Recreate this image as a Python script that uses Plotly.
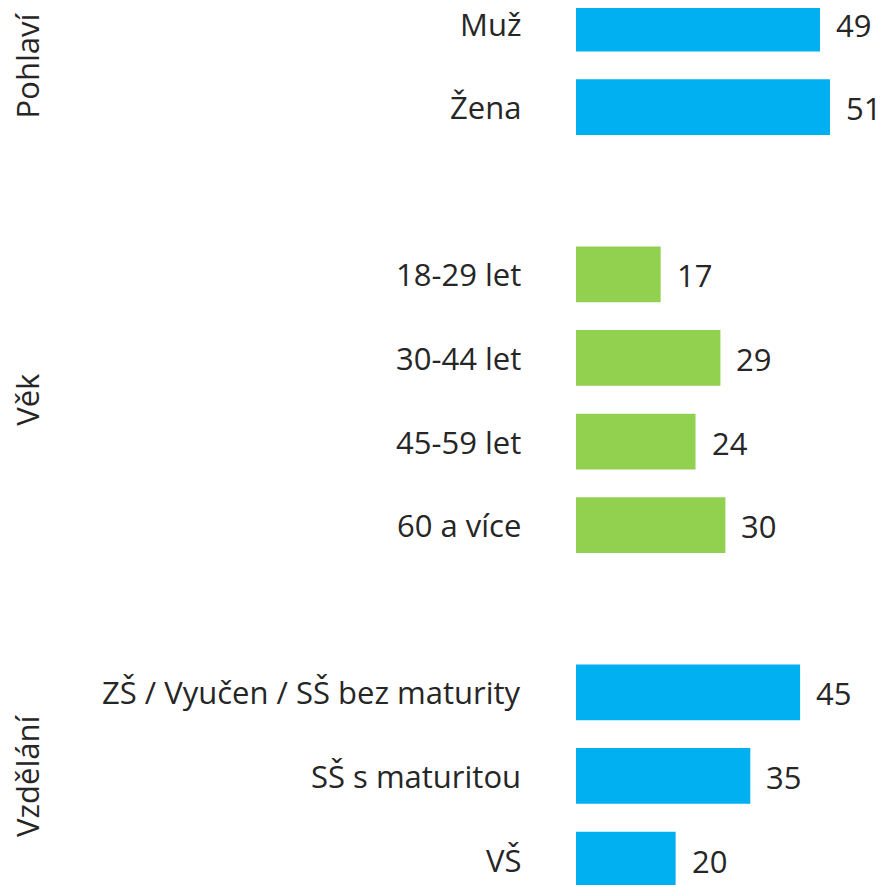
import plotly.graph_objects as go

# Data
categories = ["Muž", "Žena", "18-29 let", "30-44 let", "45-59 let", "60 a více",
              "ZŠ / Vyučen / SŠ bez maturity", "SŠ s maturitou", "VŠ"]
values = [49, 51, 17, 29, 24, 30, 45, 35, 20]
groups = ["Pohlaví", "Pohlaví", "Věk", "Věk", "Věk", "Věk", "Vzdělání", "Vzdělání", "Vzdělání"]
group_names = ["Pohlaví", "Věk", "Vzdělání"]
group_colors = {"Pohlaví": "#00B0F0", "Věk": "#92D050", "Vzdělání": "#00B0F0"}

# Slot positions: one empty slot between groups
slots = []
pos = 0
prev = None
for g in groups:
    if prev is not None and g != prev:
        pos += 1
    slots.append(pos)
    pos += 1
    prev = g

FONT = "Open Sans"
TXT = "#262626"
FS = 31
LEFT = 568

fig = go.Figure()
fig.add_trace(go.Bar(
    x=values, y=slots, orientation="h",
    marker=dict(color=[group_colors[g] for g in groups], line=dict(width=0)),
    width=0.667, hoverinfo="skip",
))

# category labels (left of the bars)
for c, s in zip(categories, slots):
    fig.add_annotation(x=0, xref="paper", y=s, yref="y", text=c, showarrow=False,
                       xanchor="right", yanchor="middle", xshift=-53,
                       font=dict(family=FONT, size=FS, color=TXT))

# value labels
for v, s in zip(values, slots):
    fig.add_annotation(x=v, y=s, text=str(v), showarrow=False, xanchor="left",
                       yanchor="middle", xshift=14, yshift=-1,
                       font=dict(family=FONT, size=FS, color=TXT))

# group labels (rotated, on the far left)
for gname in group_names:
    ss = [s for s, g in zip(slots, groups) if g == gname]
    fig.add_annotation(x=0, xref="paper", xanchor="center", xshift=-LEFT + 19,
                       y=(min(ss) + max(ss)) / 2, yref="y",
                       text=gname, textangle=-90, showarrow=False,
                       font=dict(family=FONT, size=FS, color=TXT))

fig.update_layout(
    width=884, height=885,
    margin=dict(l=LEFT, r=0, t=0, b=0),
    paper_bgcolor="white", plot_bgcolor="white",
    showlegend=False,
    font=dict(family=FONT, size=FS, color=TXT),
    xaxis=dict(range=[0, (884 - LEFT) / 4.98], visible=False, fixedrange=True),
    yaxis=dict(range=[10.40, -0.1866], showticklabels=False,
               showgrid=False, zeroline=False, showline=False, ticks=""),
)

fig.write_html("out.html")
